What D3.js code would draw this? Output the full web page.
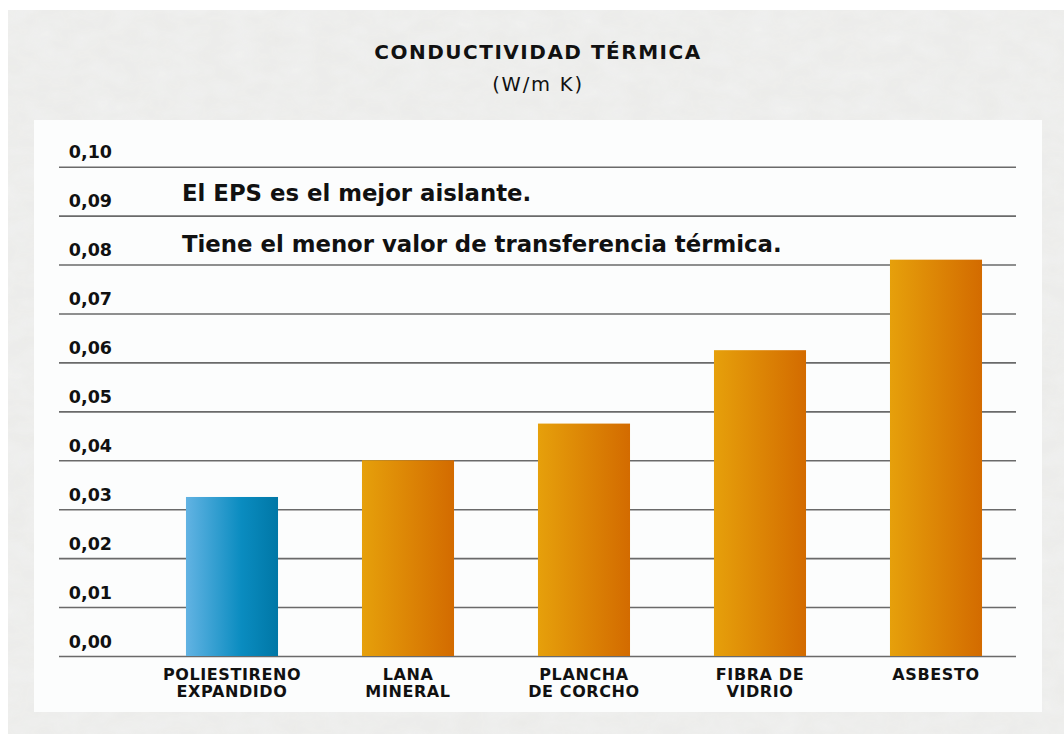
<!DOCTYPE html>
<html>
<head>
<meta charset="utf-8">
<script src="https://cdn.jsdelivr.net/npm/d3@7"></script>
<style>
  body { margin: 0; background: #fff; }
  svg { display: block; }
  text { font-family: "DejaVu Sans", sans-serif; fill: #111; }
</style>
</head>
<body>
<script>
const materials = ["POLIESTIRENO|EXPANDIDO", "LANA|MINERAL", "PLANCHA|DE CORCHO", "FIBRA DE|VIDRIO", "ASBESTO"];
const conductivity = [0.0325, 0.040, 0.0475, 0.0625, 0.081];
const yTicks = [0, 0.01, 0.02, 0.03, 0.04, 0.05, 0.06, 0.07, 0.08, 0.09, 0.10];
const notes = ["El EPS es el mejor aislante.", "Tiene el menor valor de transferencia térmica."];

const width = 1064, height = 734;
const fmt = d3.formatLocale({decimal: ",", thousands: ".", grouping: [3], currency: ["", ""]}).format(".2f");

const svg = d3.select("body").append("svg")
    .attr("width", width)
    .attr("height", height);

const defs = svg.append("defs");

// paper texture
const paper = defs.append("filter").attr("id", "paper")
    .attr("x", 0).attr("y", 0).attr("width", "100%").attr("height", "100%");
paper.append("feTurbulence")
    .attr("type", "fractalNoise")
    .attr("baseFrequency", "0.035 0.06")
    .attr("numOctaves", 3)
    .attr("seed", 4)
    .attr("result", "noise");
paper.append("feColorMatrix")
    .attr("in", "noise")
    .attr("type", "matrix")
    .attr("values", "0 0 0 0 0.88  0 0 0 0 0.885  0 0 0 0 0.88  0 0 0 -1.1 1.0")
    .attr("result", "tone");
paper.append("feComposite").attr("in", "tone").attr("in2", "SourceGraphic").attr("operator", "in");

const blue = defs.append("linearGradient").attr("id", "blueGrad");
blue.append("stop").attr("offset", "0%").attr("stop-color", "#62b3e3");
blue.append("stop").attr("offset", "60%").attr("stop-color", "#0a8cc0");
blue.append("stop").attr("offset", "100%").attr("stop-color", "#0077a6");

const orange = defs.append("linearGradient").attr("id", "orangeGrad");
orange.append("stop").attr("offset", "0%").attr("stop-color", "#e6a00b");
orange.append("stop").attr("offset", "100%").attr("stop-color", "#d36b00");

// background
svg.append("rect").attr("x", 8).attr("y", 10).attr("width", width - 8).attr("height", height - 10)
    .attr("fill", "#ebebe9");
svg.append("rect").attr("x", 8).attr("y", 10).attr("width", width - 8).attr("height", height - 10)
    .attr("fill", "#fff").attr("filter", "url(#paper)").attr("opacity", 0.9);

// white panel
svg.append("rect")
    .attr("x", 34).attr("y", 120)
    .attr("width", 1008).attr("height", 592)
    .attr("fill", "#fcfdfd");

// title
svg.append("text")
    .attr("x", 538).attr("y", 59)
    .attr("text-anchor", "middle")
    .style("font-size", "20px")
    .style("font-weight", "bold")
    .style("letter-spacing", "1.5px")
    .text("CONDUCTIVIDAD TÉRMICA");

svg.append("text")
    .attr("x", 538).attr("y", 91)
    .attr("text-anchor", "middle")
    .style("font-size", "19.5px")
    .style("letter-spacing", "1.8px")
    .text("(W/m K)");

const x = d3.scaleBand()
    .domain(materials)
    .range([144, 1024])
    .paddingInner(0.477)
    .paddingOuter(0.2385);

const y = d3.scaleLinear()
    .domain([0, 0.10])
    .range([656, 166.7]);

// gridlines + tick labels
const yAxis = d3.axisRight(y)
    .tickValues(yTicks)
    .tickSize(957)
    .tickFormat(fmt);

const gy = svg.append("g")
    .attr("transform", "translate(59,0)")
    .call(yAxis);
gy.select(".domain").remove();
gy.selectAll(".tick line")
    .attr("stroke", "#6a6a6a")
    .attr("stroke-width", 1.6);
gy.selectAll(".tick text")
    .attr("x", 53)
    .attr("dy", -9)
    .attr("text-anchor", "end")
    .style("font-family", "'DejaVu Sans', sans-serif")
    .style("font-size", "17.5px")
    .style("font-weight", "bold")
    .attr("fill", "#111");

// notes
svg.selectAll(".note")
    .data(notes)
    .join("text")
    .attr("class", "note")
    .attr("x", 182)
    .attr("y", (d, i) => 201 + i * 51)
    .style("font-size", "22.8px")
    .style("font-weight", "bold")
    .text(d => d);

// bars
svg.selectAll(".bar")
    .data(materials)
    .join("rect")
    .attr("class", "bar")
    .attr("x", d => x(d))
    .attr("width", x.bandwidth())
    .attr("y", (d, i) => y(conductivity[i]))
    .attr("height", (d, i) => y(0) - y(conductivity[i]))
    .attr("fill", (d, i) => i === 0 ? "url(#blueGrad)" : "url(#orangeGrad)");

// category labels
const xAxis = d3.axisBottom(x).tickSize(0).tickFormat("");
const gx = svg.append("g")
    .attr("transform", "translate(0,656)")
    .call(xAxis);
gx.select(".domain").remove();
gx.selectAll(".tick").each(function(d) {
    const lines = d.split("|");
    const t = d3.select(this).append("text")
        .attr("text-anchor", "middle")
        .attr("y", 24)
        .style("font-size", "16px")
        .style("font-weight", "bold")
        .style("letter-spacing", "0.6px")
        .attr("fill", "#111");
    lines.forEach((line, i) => {
        t.append("tspan").attr("x", 0).attr("dy", i === 0 ? 0 : 17).text(line);
    });
});
</script>
</body>
</html>
